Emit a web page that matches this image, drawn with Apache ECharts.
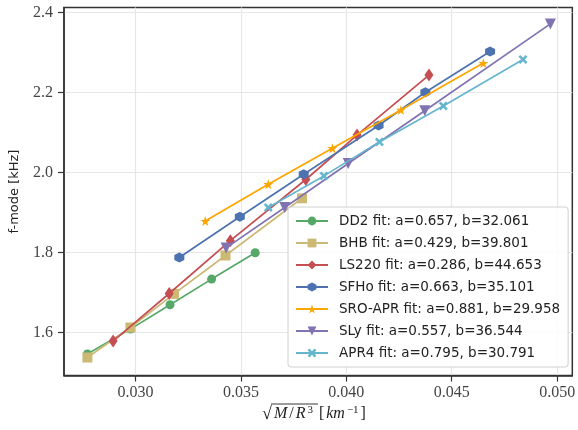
<!DOCTYPE html>
<html>
<head>
<meta charset="utf-8">
<style>
  html, body { margin: 0; padding: 0; background: #fff; }
  #chart { width: 578px; height: 430px; }
</style>
<script src="https://cdn.jsdelivr.net/npm/echarts@6/dist/echarts.min.js"></script>
</head>
<body>
<div id="chart"></div>
<script>
// Tick positions
const xTicks = [0.030, 0.035, 0.040, 0.045, 0.050];
const yTicks = [1.6, 1.8, 2.0, 2.2, 2.4];

// f-mode frequency vs. compactness for each equation of state
const dd2X  = [0.02772, 0.02976, 0.03164, 0.03361, 0.03568];
const dd2Y  = [1.546, 1.608, 1.669, 1.733, 1.799];
const bhbX  = [0.02772, 0.02976, 0.03183, 0.03427, 0.0379];
const bhbY  = [1.537, 1.612, 1.696, 1.792, 1.935];
const ls220X = [0.02894, 0.0316, 0.0345, 0.03808, 0.04051, 0.04392];
const ls220Y = [1.578, 1.697, 1.829, 1.982, 2.093, 2.243];
const sfhoX = [0.03208, 0.03495, 0.03798, 0.04153, 0.04375, 0.04682];
const sfhoY = [1.787, 1.889, 1.995, 2.117, 2.200, 2.302];
const sroX  = [0.03331, 0.0363, 0.03934, 0.04259, 0.0465];
const sroY  = [1.878, 1.970, 2.060, 2.156, 2.273];
const slyX  = [0.0343, 0.03708, 0.04009, 0.04372, 0.04968];
const slyY  = [1.811, 1.912, 2.022, 2.154, 2.371];
const apr4X = [0.0363, 0.03894, 0.04157, 0.0446, 0.04838];
const apr4Y = [1.912, 1.991, 2.076, 2.166, 2.282];

const seriesNames = [
  'DD2 fit: a=0.657, b=32.061',
  'BHB fit: a=0.429, b=39.801',
  'LS220 fit: a=0.286, b=44.653',
  'SFHo fit: a=0.663, b=35.101',
  'SRO-APR fit: a=0.881, b=29.958',
  'SLy fit: a=0.557, b=36.544',
  'APR4 fit: a=0.795, b=30.791'
];

const HEXAGON = 'path://M0,-1L0.866,-0.5L0.866,0.5L0,1L-0.866,0.5L-0.866,-0.5Z';
const STAR = 'path://M0,-1L0.2245,-0.309L0.951,-0.309L0.363,0.118L0.588,0.809L0,0.382L-0.588,0.809L-0.363,0.118L-0.951,-0.309L-0.2245,-0.309Z';
const XFILLED = 'path://M-1,-0.6L-0.6,-1L0,-0.4L0.6,-1L1,-0.6L0.4,0L1,0.6L0.6,1L0,0.4L-0.6,1L-1,0.6L-0.4,0Z';
const TRIDOWN = 'path://M-1,-0.8L1,-0.8L0,0.9Z';

const styles = [
  { color: '#55a868', symbol: 'circle', size: 9 },
  { color: '#ccb974', symbol: 'rect', size: 10 },
  { color: '#c44e52', symbol: 'diamond', size: [9, 13] },
  { color: '#4c72b0', symbol: HEXAGON, size: 10 },
  { color: '#ffa500', symbol: STAR, size: 10 },
  { color: '#8172b2', symbol: TRIDOWN, size: 11 },
  { color: '#64b5cd', symbol: XFILLED, size: 9 }
];

const xs = [dd2X, bhbX, ls220X, sfhoX, sroX, slyX, apr4X];
const ys = [dd2Y, bhbY, ls220Y, sfhoY, sroY, slyY, apr4Y];

const series = seriesNames.map((name, i) => ({
  name: name,
  type: 'line',
  data: xs[i].map((x, j) => [x, ys[i][j]]),
  symbol: styles[i].symbol,
  symbolSize: styles[i].size,
  showAllSymbol: true,
  lineStyle: { color: styles[i].color, width: 1.7 },
  itemStyle: { color: styles[i].color, borderWidth: 0 },
  emphasis: { disabled: true },
  animation: false,
  z: 2 + i
}));

const serif = 'Liberation Serif';
const ink = '#222222';
const chart = echarts.init(document.getElementById('chart'), null, { renderer: 'canvas' });
chart.setOption({
  animation: false,
  backgroundColor: '#ffffff',
  grid: {
    left: 59.5, right: 5, top: 7.5, bottom: 54.5,
    show: true, borderColor: '#333333', borderWidth: 1.5, backgroundColor: 'transparent'
  },
  xAxis: {
    type: 'value',
    min: 0.02661, max: 0.05072,
    axisLine: { show: true, lineStyle: { color: '#333333', width: 1.5 } },
    axisTick: { show: true, length: 6, inside: false, customValues: xTicks,
                lineStyle: { color: '#333333', width: 1.2 } },
    axisLabel: { customValues: xTicks, margin: 9, fontFamily: serif, fontSize: 16, color: '#444444',
                 formatter: v => v.toFixed(3) },
    splitLine: { show: true, lineStyle: { color: '#e6e6e6', width: 1.2 } }
  },
  yAxis: {
    type: 'value',
    min: 1.492, max: 2.412,
    axisLine: { show: true, lineStyle: { color: '#333333', width: 1.5 } },
    axisTick: { show: true, length: 6, inside: false, customValues: yTicks,
                lineStyle: { color: '#333333', width: 1.2 } },
    axisLabel: { customValues: yTicks, margin: 11, fontFamily: serif, fontSize: 16, color: '#444444',
                 formatter: v => v.toFixed(1) },
    splitLine: { show: true, lineStyle: { color: '#e6e6e6', width: 1.2 } },
    name: 'f-mode [kHz]',
    nameLocation: 'middle',
    nameGap: 43,
    nameTextStyle: { fontFamily: 'DejaVu Sans', fontSize: 13, color: ink }
  },
  legend: {
    left: 288, top: 207,
    orient: 'vertical',
    itemWidth: 32, itemHeight: 11, itemGap: 8,
    padding: [7, 8, 7, 7],
    backgroundColor: 'rgba(255,255,255,0.85)',
    borderColor: '#d0d0d0', borderWidth: 1, borderRadius: 3,
    textStyle: { fontFamily: 'DejaVu Sans', fontSize: 13.5, color: ink, padding: [0, 0, 0, 6] },
    data: seriesNames,
    selectedMode: false
  },
  graphic: [
    {
      // x-axis title: sqrt(M/R^3) [km^-1]
      type: 'text', left: 262, top: 405,
      style: {
        text: '{r|√}{m|M}{t|/}{m|R}{s|3}{t| [}{m|km}{s|−1}{t|]}',
        rich: {
          r: { fontFamily: serif, fontSize: 18, fill: ink, lineHeight: 18, padding: [0, 1, 0, 0] },
          m: { fontFamily: serif, fontStyle: 'italic', fontSize: 16, fill: ink, lineHeight: 18, padding: [0, 1, 0, 1] },
          s: { fontFamily: serif, fontSize: 11, fill: ink, lineHeight: 18, verticalAlign: 'top', padding: [0, 1, 8, 1] },
          t: { fontFamily: serif, fontSize: 16, fill: ink, lineHeight: 18, padding: [0, 1, 0, 1] }
        }
      }
    },
    {
      type: 'line', shape: { x1: 271, y1: 404, x2: 318, y2: 404 },
      style: { stroke: ink, lineWidth: 0.9 }
    }
  ],
  series: series
});
</script>
</body>
</html>
